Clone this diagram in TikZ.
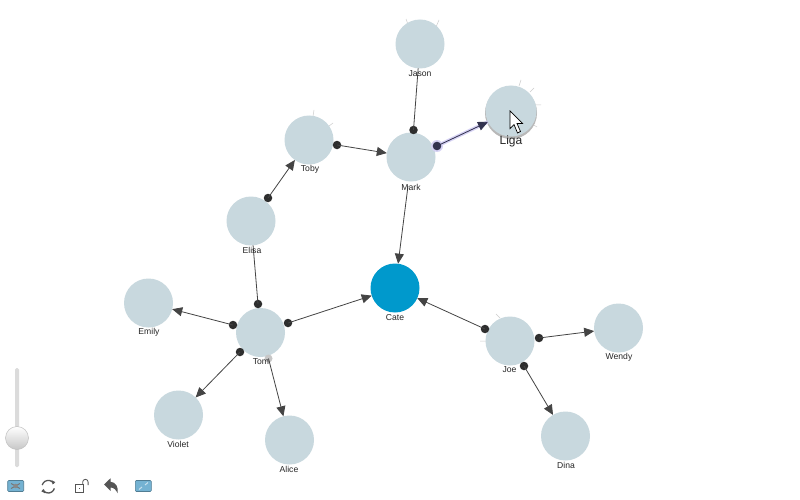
\documentclass[tikz,border=0pt]{standalone}
\usepackage{fontspec}
\setmainfont{Liberation Sans}
\usetikzlibrary{arrows.meta,shadings}
\definecolor{nodefill}{HTML}{C8D8DE}
\definecolor{catefill}{HTML}{0099CC}
\definecolor{linecol}{HTML}{444444}
\definecolor{dotcol}{HTML}{2E2E2E}
\definecolor{iconblue}{HTML}{74B2D2}
\definecolor{icondark}{HTML}{555555}
\definecolor{hoverline}{HTML}{33334F}
\definecolor{hoverglow}{HTML}{D6D2F4}
\tikzset{
  person/.style={circle,fill=nodefill,minimum size=49pt,inner sep=0pt,outer sep=0pt},
  cate/.style={person,fill=catefill},
  namelabel/.style={font=\fontsize{8.6}{10}\selectfont,text=black!85,inner sep=0.6pt,yshift=-0.7pt},
  knot/.style={circle,fill=dotcol,minimum size=8.5pt,inner sep=0pt},
  fadedknot/.style={circle,fill=black!22,minimum size=8pt,inner sep=0pt},
  link/.style={draw=linecol,line width=0.8pt},
  arrowlink/.style={link,-{Triangle[length=10pt,width=9pt]}},
  whisker/.style={draw=black!20,line width=0.5pt},
  iconbox/.style={draw=iconblue!70!black,fill=iconblue,line width=0.6pt,rounded corners=1pt,minimum width=16pt,minimum height=11pt,inner sep=0pt},
  iconstroke/.style={draw=icondark,line width=1.3pt}
}
\begin{document}
\begin{tikzpicture}[x=1pt,y=-1pt]
\useasboundingbox (0,0) rectangle (800,500);
\fill[white] (0,0) rectangle (800,500);
% whiskers
\draw[whisker] (409,27)--(406,19) (436,27)--(439,20);
\draw[whisker] (519,86)--(521,80) (530,92)--(534,88) (536,105)--(541,105) (532,124)--(537,127);
\draw[whisker] (313,116)--(314,110) (329,126)--(333,123);
\draw[whisker] (487,341)--(480,341) (500,318)--(496,314);
% shadow of Liga
\fill[black!28] (511,113) circle (26);
% people
\node[person] (jason) at (420,44) {};
\node[person,minimum size=51pt] (liga) at (511,111) {};
\node[person] (mark) at (411,157) {};
\node[person] (toby) at (309,140) {};
\node[person] (elisa) at (251,221) {};
\node[person] (emily) at (148.5,303) {};
\node[person] (tom) at (260.5,332.5) {};
\node[person] (violet) at (178.5,415) {};
\node[person] (alice) at (289.5,440) {};
\node[cate] (cate) at (395,288) {};
\node[person] (joe) at (510,341) {};
\node[person] (wendy) at (618.5,328) {};
\node[person] (dina) at (565.5,436) {};
% knots
\node[knot] (kjm) at (413.5,130) {};
\node[knot] (kml) at (437,146) {};
\node[knot] (ktm) at (337,145) {};
\node[knot] (ket) at (268,198) {};
\node[knot] (ketom) at (258,304) {};
\node[knot] (ktem) at (233,325) {};
\node[knot] (ktv) at (240,352) {};
\node[knot] (ktc) at (288,323) {};
\node[knot] (kjc) at (485,329) {};
\node[knot] (kjw) at (539,338) {};
\node[knot] (kjd) at (524,366) {};
\node[fadedknot] (kta) at (268.5,358.5) {};
\coordinate (kmc) at (408,186);
% highlight of hovered link
\draw[draw=hoverglow,line width=3.5pt] (kml.center) -- (liga);
\fill[hoverglow] (437,146) circle (6);
% links
\draw[link] (kjm.center) -- (jason);
\draw[link] (ketom.center) -- (elisa);
\draw[arrowlink,draw=hoverline] (kml.center) -- (liga);
\fill[hoverline] (437,146) circle (4.3);
\draw[arrowlink] (ktm.center) -- (mark);
\draw[arrowlink] (ket.center) -- (toby);
\draw[arrowlink] (kmc) -- (cate);
\draw[arrowlink] (ktem.center) -- (emily);
\draw[arrowlink] (ktv.center) -- (violet);
\draw[arrowlink] (kta.center) -- (alice);
\draw[arrowlink] (ktc.center) -- (cate);
\draw[arrowlink] (kjc.center) -- (cate);
\draw[arrowlink] (kjw.center) -- (wendy);
\draw[arrowlink] (kjd.center) -- (dina);
% labels
\node[namelabel] (ljason) at (420,73) {Jason};
\node[namelabel,font=\fontsize{12}{14}\selectfont] (lliga) at (511,141) {Liga};
\node[namelabel] (lmark) at (411,187) {Mark};
\node[namelabel] (ltoby) at (310,169) {Toby};
\node[namelabel] (lelisa) at (252,250) {Elisa};
\node[namelabel] (lemily) at (149,332) {Emily};
\node[namelabel] (ltom) at (261,361) {Tom};
\node[namelabel] (lviolet) at (178,444) {Violet};
\node[namelabel] (lalice) at (289,469) {Alice};
\node[namelabel] (lcate) at (395,317) {Cate};
\node[namelabel] (ljoe) at (509.5,369) {Joe};
\node[namelabel] (lwendy) at (619,357) {Wendy};
\node[namelabel] (ldina) at (566,465) {Dina};
% cursor
\draw[fill=white,draw=black,line width=0.7pt,line join=miter]
  (510,111) -- (510,128.5) -- (514,124.5) -- (517.5,133) -- (520.5,131.5) -- (517,123.5) -- (522.5,123.5) -- cycle;
% zoom slider
\fill[black!14,rounded corners=1.5pt] (15,368) rectangle (19,467);
\shade[top color=white,bottom color=black!22,draw=black!25,line width=0.5pt] (17,438) circle (11.5);
% toolbar
\node[iconbox] (ifit) at (15.7,486) {};
\draw[icondark!80,line width=1pt] (11,483.5)--(20,488.5) (11,488.5)--(20,483.5);
\fill[icondark!70] (15.7,486) circle (2.2);
\node[iconbox] (ifull) at (143.3,486) {};
\draw[white!60!iconblue,line width=1pt] (139,489.5)--(142,487) (145,485)--(148,482.5);
% refresh
\begin{scope}[shift={(48.3,486.7)}]
\draw[iconstroke] (-165:6.3) arc (-165:-30:6.3);
\draw[iconstroke] (15:6.3) arc (15:150:6.3);
\fill[icondark] (3.2,-6.6)--(7,-4.6)--(4.4,-2.2)--cycle;
\fill[icondark] (-3.2,6.6)--(-7,4.6)--(-4.4,2.2)--cycle;
\end{scope}
% lock
\draw[draw=icondark,line width=0.8pt,fill=white] (75,484) rectangle (83.5,492.7);
\draw[draw=icondark,line width=0.8pt] (82.7,484) -- (82.7,482) arc (180:360:2.7) -- (88.1,485);
\fill[icondark] (78.5,487.5) rectangle (80,489);
% undo
\fill[icondark] (104,484.5) -- (110.5,478.3) -- (110.5,481.8) .. controls (116,482) and (118.5,487) .. (117.7,493.3) .. controls (116,490) and (114,487.5) .. (110.5,487.5) -- (110.5,490.8) -- cycle;
\end{tikzpicture}
\end{document}
